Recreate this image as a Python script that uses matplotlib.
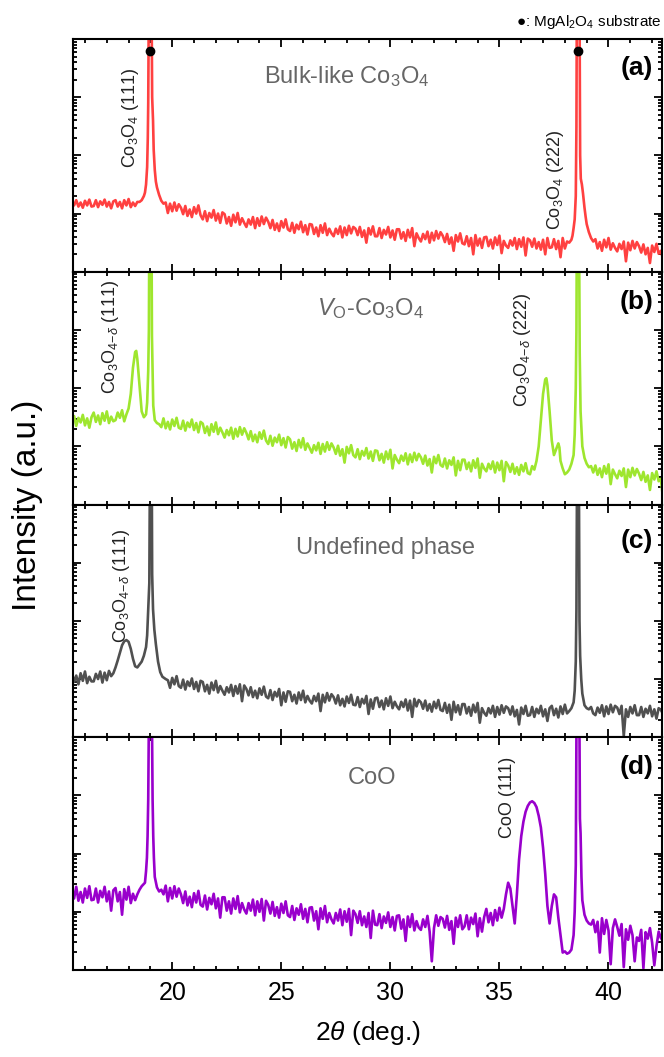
import numpy as np
import matplotlib
matplotlib.use('Agg')
import matplotlib.pyplot as plt
from matplotlib.ticker import LogLocator, MultipleLocator, NullFormatter

plt.rcParams['font.family'] = ['Liberation Sans', 'DejaVu Sans']
plt.rcParams['mathtext.fontset'] = 'custom'
plt.rcParams['mathtext.rm'] = 'Liberation Sans'
plt.rcParams['mathtext.it'] = 'Liberation Sans:italic'
plt.rcParams['mathtext.bf'] = 'Liberation Sans:bold'

# 2theta grid (deg), 0.1 deg step
two_theta = np.round(np.linspace(15.4, 42.5, 272), 2)

# background, log10(intensity), one row = 1 deg
bg_a = [
    1.21, 1.14, 1.23, 1.12, 1.19, 1.10, 1.22, 1.14, 1.24, 1.12,
    1.13, 1.23, 1.11, 1.21, 1.15, 1.24, 1.12, 1.20, 1.09, 1.21,
    1.23, 1.12, 1.20, 1.09, 1.23, 1.14, 1.25, 1.11, 1.19, 1.13,
    1.20, 1.22, 1.20, 1.20, 1.20, 1.20, 1.20, 1.20, 1.20, 1.20,
    1.20, 1.20, 1.20, 1.19, 1.01, 1.17, 1.04, 1.19, 1.05, 1.16,
    1.10, 0.99, 1.13, 0.96, 1.07, 0.94, 1.11, 1.00, 1.14, 0.97,
    0.90, 1.04, 0.87, 1.01, 0.93, 1.06, 0.88, 1.00, 0.84, 1.02,
    0.99, 0.83, 0.94, 0.79, 0.98, 0.85, 1.01, 0.81, 0.92, 0.84,
    0.77, 0.90, 0.81, 0.94, 0.75, 0.92, 0.79, 0.95, 0.82, 0.93,
    0.86, 0.75, 0.89, 0.72, 0.83, 0.70, 0.87, 0.76, 0.90, 0.73,
    0.70, 0.84, 0.67, 0.81, 0.73, 0.86, 0.68, 0.80, 0.64, 0.82,
    0.81, 0.65, 0.76, 0.61, 0.80, 0.67, 0.83, 0.63, 0.74, 0.66,
    0.61, 0.74, 0.65, 0.78, 0.59, 0.76, 0.63, 0.79, 0.66, 0.77,
    0.74, 0.63, 0.77, 0.60, 0.71, 0.50, 0.75, 0.64, 0.78, 0.61,
    0.61, 0.75, 0.58, 0.72, 0.64, 0.77, 0.59, 0.71, 0.55, 0.73,
    0.73, 0.57, 0.68, 0.53, 0.72, 0.59, 0.75, 0.44, 0.66, 0.58,
    0.52, 0.65, 0.56, 0.69, 0.50, 0.67, 0.54, 0.70, 0.57, 0.68,
    0.62, 0.51, 0.65, 0.48, 0.59, 0.36, 0.63, 0.52, 0.66, 0.49,
    0.47, 0.61, 0.44, 0.58, 0.30, 0.63, 0.45, 0.57, 0.41, 0.59,
    0.60, 0.44, 0.55, 0.40, 0.59, 0.46, 0.62, 0.32, 0.53, 0.45,
    0.41, 0.54, 0.45, 0.58, 0.39, 0.56, 0.43, 0.59, 0.28, 0.57,
    0.54, 0.43, 0.57, 0.40, 0.51, 0.38, 0.55, 0.30, 0.58, 0.41,
    0.42, 0.56, 0.39, 0.53, 0.25, 0.58, 0.40, 0.52, 0.50, 0.50,
    0.50, 0.50, 0.50, 0.50, 0.50, 0.50, 0.50, 0.50, 0.50, 0.50,
    0.56, 0.40, 0.51, 0.36, 0.55, 0.42, 0.58, 0.38, 0.49, 0.41,
    0.35, 0.48, 0.39, 0.52, 0.18, 0.50, 0.37, 0.53, 0.40, 0.51,
    0.44, 0.33, 0.47, 0.30, 0.41, 0.15, 0.45, 0.34, 0.48, 0.31,
    0.36, 0.22,
]
bg_b = [
    1.38, 1.52, 1.35, 1.49, 1.41, 1.54, 1.36, 1.48, 1.32, 1.50,
    1.58, 1.42, 1.53, 1.38, 1.57, 1.44, 1.60, 1.40, 1.51, 1.43,
    1.45, 1.58, 1.49, 1.62, 1.43, 1.55, 1.55, 1.55, 1.55, 1.55,
    1.50, 1.50, 1.50, 1.50, 1.50, 1.50, 1.50, 1.50, 1.50, 1.50,
    1.40, 1.33, 1.48, 1.31, 1.42, 1.29, 1.46, 1.35, 1.49, 1.32,
    1.30, 1.44, 1.27, 1.41, 1.33, 1.46, 1.28, 1.40, 1.24, 1.42,
    1.39, 1.23, 1.34, 1.19, 1.38, 1.25, 1.41, 1.21, 1.32, 1.24,
    1.15, 1.28, 1.19, 1.32, 1.13, 1.30, 1.17, 1.33, 1.20, 1.31,
    1.23, 1.12, 1.26, 1.09, 1.20, 1.07, 1.24, 1.13, 1.27, 1.10,
    1.04, 1.18, 1.01, 1.15, 1.07, 1.20, 1.02, 1.14, 0.98, 1.16,
    1.12, 0.96, 1.07, 0.92, 1.11, 0.98, 1.14, 0.94, 1.05, 0.97,
    0.89, 1.02, 0.93, 1.06, 0.87, 1.04, 0.91, 1.07, 0.94, 1.05,
    0.98, 0.87, 1.01, 0.84, 0.95, 0.72, 0.99, 0.88, 1.02, 0.85,
    0.81, 0.95, 0.78, 0.92, 0.84, 0.97, 0.79, 0.91, 0.75, 0.93,
    0.92, 0.76, 0.87, 0.72, 0.91, 0.78, 0.94, 0.62, 0.85, 0.77,
    0.71, 0.84, 0.75, 0.88, 0.69, 0.86, 0.73, 0.89, 0.76, 0.87,
    0.81, 0.70, 0.84, 0.67, 0.78, 0.55, 0.82, 0.71, 0.85, 0.68,
    0.65, 0.79, 0.62, 0.76, 0.68, 0.81, 0.50, 0.75, 0.59, 0.77,
    0.77, 0.61, 0.72, 0.57, 0.76, 0.63, 0.79, 0.46, 0.70, 0.62,
    0.57, 0.70, 0.61, 0.74, 0.55, 0.72, 0.59, 0.75, 0.40, 0.73,
    0.67, 0.56, 0.70, 0.53, 0.64, 0.51, 0.68, 0.57, 0.71, 0.54,
    0.52, 0.66, 0.60, 0.60, 0.60, 0.60, 0.60, 0.60, 0.60, 0.60,
    0.60, 0.60, 0.60, 0.60, 0.60, 0.60, 0.60, 0.60, 0.60, 0.60,
    0.60, 0.60, 0.60, 0.60, 0.60, 0.60, 0.60, 0.60, 0.66, 0.55,
    0.67, 0.51, 0.62, 0.47, 0.66, 0.53, 0.69, 0.35, 0.60, 0.52,
    0.45, 0.58, 0.49, 0.62, 0.30, 0.60, 0.47, 0.63, 0.50, 0.61,
    0.53, 0.42, 0.56, 0.39, 0.50, 0.25, 0.54, 0.43, 0.57, 0.40,
    0.44, 0.10,
]
bg_c = [
    1.11, 0.95, 1.06, 0.91, 1.10, 0.97, 1.13, 0.93, 1.04, 0.96,
    0.96, 1.09, 1.00, 1.13, 0.94, 1.11, 0.98, 1.14, 1.05, 1.05,
    1.20, 1.20, 1.20, 1.20, 1.20, 1.20, 1.20, 1.20, 1.20, 1.20,
    1.20, 1.20, 1.20, 1.20, 1.20, 1.20, 1.20, 1.20, 1.20, 1.20,
    1.10, 1.05, 1.02, 1.00, 0.98, 0.85, 1.02, 0.91, 1.05, 0.88,
    0.85, 0.99, 0.82, 0.96, 0.88, 1.01, 0.83, 0.95, 0.79, 0.97,
    0.95, 0.79, 0.90, 0.75, 0.94, 0.81, 0.97, 0.77, 0.88, 0.80,
    0.73, 0.86, 0.77, 0.90, 0.71, 0.88, 0.75, 0.91, 0.62, 0.89,
    0.83, 0.72, 0.86, 0.69, 0.80, 0.67, 0.84, 0.73, 0.87, 0.70,
    0.67, 0.81, 0.64, 0.78, 0.70, 0.83, 0.55, 0.77, 0.61, 0.79,
    0.78, 0.62, 0.73, 0.58, 0.77, 0.64, 0.80, 0.60, 0.71, 0.63,
    0.58, 0.71, 0.62, 0.75, 0.45, 0.73, 0.60, 0.76, 0.63, 0.74,
    0.69, 0.58, 0.72, 0.55, 0.66, 0.53, 0.70, 0.59, 0.73, 0.56,
    0.55, 0.69, 0.52, 0.66, 0.58, 0.71, 0.40, 0.65, 0.49, 0.67,
    0.68, 0.52, 0.63, 0.48, 0.67, 0.54, 0.70, 0.50, 0.61, 0.53,
    0.48, 0.61, 0.52, 0.65, 0.46, 0.63, 0.35, 0.66, 0.53, 0.64,
    0.60, 0.49, 0.63, 0.46, 0.57, 0.44, 0.61, 0.50, 0.64, 0.47,
    0.45, 0.59, 0.42, 0.56, 0.30, 0.61, 0.43, 0.55, 0.39, 0.57,
    0.57, 0.41, 0.52, 0.37, 0.56, 0.43, 0.59, 0.25, 0.50, 0.42,
    0.37, 0.50, 0.41, 0.54, 0.35, 0.52, 0.39, 0.55, 0.42, 0.53,
    0.50, 0.39, 0.53, 0.36, 0.47, 0.22, 0.51, 0.40, 0.54, 0.37,
    0.38, 0.52, 0.35, 0.49, 0.41, 0.54, 0.36, 0.48, 0.28, 0.50,
    0.54, 0.38, 0.49, 0.34, 0.53, 0.40, 0.56, 0.41, 0.45, 0.45,
    0.50, 0.50, 0.50, 0.50, 0.50, 0.50, 0.50, 0.50, 0.52, 0.41,
    0.38, 0.51, 0.42, 0.55, 0.36, 0.53, 0.40, 0.56, 0.43, 0.54,
    0.51, 0.40, 0.54, 0.02, 0.48, 0.35, 0.52, 0.41, 0.55, 0.38,
    0.38, 0.52, 0.35, 0.49, 0.41, 0.54, 0.36, 0.48, 0.32, 0.50,
    0.47, 0.40,
]
bg_d = [
    1.38, 1.23, 1.43, 1.19, 1.34, 1.16, 1.40, 1.24, 1.44, 1.20,
    1.21, 1.40, 1.16, 1.36, 1.25, 1.43, 1.18, 1.35, 1.02, 1.37,
    1.41, 1.18, 1.34, 0.95, 1.39, 1.21, 1.43, 1.15, 1.31, 1.20,
    1.35, 1.35, 1.35, 1.35, 1.35, 1.35, 1.35, 1.35, 1.35, 1.35,
    1.30, 1.30, 1.30, 1.45, 1.18, 1.41, 1.23, 1.44, 1.26, 1.40,
    1.30, 1.15, 1.35, 1.11, 1.26, 1.08, 1.32, 1.16, 1.36, 1.12,
    1.09, 1.28, 1.04, 1.24, 1.13, 1.31, 1.06, 1.23, 0.90, 1.25,
    1.25, 1.02, 1.18, 0.97, 1.23, 1.05, 1.27, 0.99, 1.15, 1.04,
    0.97, 1.15, 1.02, 1.21, 0.94, 1.18, 1.00, 1.22, 0.85, 1.19,
    1.12, 0.97, 1.17, 0.93, 1.08, 0.90, 1.14, 0.98, 1.18, 0.94,
    0.91, 1.10, 0.86, 1.06, 0.95, 1.13, 0.88, 1.05, 0.82, 1.07,
    1.08, 0.85, 1.01, 0.70, 1.06, 0.88, 1.10, 0.82, 0.98, 0.87,
    0.80, 0.98, 0.85, 1.04, 0.77, 1.01, 0.83, 1.05, 0.60, 1.02,
    0.96, 0.81, 1.01, 0.77, 0.92, 0.74, 0.98, 0.55, 1.02, 0.78,
    0.77, 0.96, 0.72, 0.92, 0.81, 0.99, 0.74, 0.91, 0.68, 0.93,
    0.94, 0.71, 0.87, 0.50, 0.92, 0.74, 0.96, 0.68, 0.84, 0.73,
    0.69, 0.87, 0.74, 0.93, 0.66, 0.15, 0.72, 0.94, 0.76, 0.91,
    0.88, 0.73, 0.93, 0.69, 0.84, 0.45, 0.90, 0.74, 0.94, 0.70,
    0.75, 0.94, 0.70, 0.90, 0.79, 0.97, 0.58, 0.89, 0.66, 0.91,
    1.05, 0.82, 0.98, 0.77, 1.03, 0.85, 1.07, 0.90, 1.00, 1.00,
    1.00, 1.00, 1.00, 1.00, 1.00, 1.00, 1.00, 1.00, 1.00, 1.00,
    1.00, 1.00, 1.00, 1.00, 1.00, 1.00, 1.00, 1.00, 1.00, 1.00,
    1.00, 1.00, 1.00, 1.00, 1.00, 1.00, 1.00, 1.00, 1.00, 1.00,
    1.00, 1.00, 1.00, 1.00, 1.00, 1.00, 1.00, 1.00, 1.00, 0.86,
    0.65, 0.83, 0.30, 0.89, 0.62, 0.86, 0.68, 0.10, 0.72, 0.87,
    0.74, 0.59, 0.79, 0.05, 0.70, 0.52, 0.76, 0.60, 0.15, 0.56,
    0.50, 0.69, 0.03, 0.65, 0.54, 0.72, 0.47, 0.08, 0.41, 0.66,
    0.55, 0.50,
]

# peak regions (2theta, log10 intensity), these replace the background
peaks_a = [
    ([18.5, 18.6, 18.7, 18.75, 18.8, 18.85, 18.88, 18.9, 18.93, 19.05, 19.08,
      19.12, 19.15, 19.2, 19.25, 19.3, 19.4, 19.5, 19.6],
     [1.20, 1.23, 1.30, 1.36, 1.50, 1.80, 2.30, 2.90, 4.80, 4.80, 3.00,
      2.60, 2.10, 1.75, 1.55, 1.45, 1.32, 1.22, 1.17]),
    ([38.2, 38.3, 38.35, 38.4, 38.45, 38.5, 38.53, 38.55, 38.67, 38.7, 38.73,
      38.78, 38.83, 38.9, 38.95, 39.0, 39.1, 39.2, 39.3],
     [0.50, 0.55, 0.62, 0.75, 0.90, 1.30, 2.50, 4.80, 4.80, 2.00, 1.60,
      1.50, 1.35, 1.10, 0.95, 0.82, 0.68, 0.58, 0.52]),
]
peaks_b = [
    ([17.9, 18.0, 18.1, 18.2, 18.3, 18.35, 18.4, 18.5, 18.6, 18.7, 18.8,
      18.85, 18.9, 18.93, 18.95, 19.05, 19.07, 19.1, 19.13, 19.2, 19.3, 19.4],
     [1.55, 1.65, 1.90, 2.35, 2.62, 2.64, 2.50, 2.05, 1.60, 1.50, 1.55,
      1.75, 2.30, 3.00, 4.80, 4.80, 2.90, 2.30, 1.70, 1.45, 1.40, 1.38]),
    ([36.6, 36.7, 36.8, 36.9, 37.0, 37.1, 37.15, 37.2, 37.3, 37.4, 37.5,
      37.6, 37.7, 37.75, 37.8, 37.9, 38.0, 38.1, 38.2, 38.3, 38.4, 38.45,
      38.5, 38.53, 38.55, 38.65, 38.68, 38.72, 38.8, 38.9, 39.0, 39.1],
     [0.60, 0.75, 1.00, 1.45, 1.90, 2.15, 2.17, 2.05, 1.60, 1.10, 0.85,
      0.95, 1.05, 0.98, 0.75, 0.62, 0.52, 0.55, 0.60, 0.70, 0.85, 1.20,
      2.00, 3.00, 4.80, 4.80, 2.60, 1.60, 1.00, 0.80, 0.70, 0.64]),
]
peaks_c = [
    ([17.2, 17.3, 17.4, 17.5, 17.6, 17.7, 17.8, 17.9, 18.0, 18.1, 18.2,
      18.3, 18.4, 18.5, 18.6, 18.7, 18.8, 18.85, 18.9, 18.95, 18.98, 19.06,
      19.08, 19.12, 19.18, 19.25, 19.35, 19.45, 19.55, 19.7, 19.8],
     [1.05, 1.10, 1.20, 1.32, 1.45, 1.58, 1.65, 1.67, 1.64, 1.52, 1.35,
      1.22, 1.20, 1.25, 1.30, 1.40, 1.55, 1.75, 2.20, 2.65, 4.80, 4.80,
      2.80, 2.20, 1.85, 1.60, 1.30, 1.12, 1.04, 1.00, 0.98]),
    ([38.2, 38.3, 38.4, 38.45, 38.5, 38.53, 38.56, 38.64, 38.67, 38.7, 38.75,
      38.8, 38.9, 39.0, 39.1],
     [0.45, 0.50, 0.60, 0.80, 1.30, 2.20, 4.80, 4.80, 2.00, 1.40, 1.00,
      0.75, 0.55, 0.50, 0.48]),
]
peaks_d = [
    ([18.4, 18.5, 18.6, 18.75, 18.8, 18.84, 18.87, 18.9, 18.94, 19.06, 19.1,
      19.13, 19.16, 19.2, 19.3, 19.4, 19.5, 19.6],
     [1.30, 1.38, 1.44, 1.50, 1.70, 1.93, 2.30, 2.93, 4.80, 4.80, 2.93,
      2.30, 1.93, 1.60, 1.42, 1.35, 1.38, 1.30]),
    ([35.2, 35.3, 35.4, 35.5, 35.6, 35.7, 35.8, 35.9, 36.0, 36.1, 36.2,
      36.3, 36.4, 36.5, 36.6, 36.7, 36.8, 36.9, 37.0, 37.1, 37.2, 37.3,
      37.4, 37.5, 37.6, 37.7, 37.8, 37.9, 38.0, 38.1, 38.2, 38.3, 38.4,
      38.45, 38.5, 38.54, 38.66, 38.69, 38.72, 38.76, 38.8, 38.9, 39.0,
      39.1, 39.2],
     [1.05, 1.30, 1.50, 1.40, 1.10, 0.80, 1.30, 1.90, 2.30, 2.55, 2.72,
      2.82, 2.88, 2.90, 2.87, 2.80, 2.65, 2.45, 2.10, 1.65, 1.10, 0.80,
      1.10, 1.30, 1.25, 0.90, 0.60, 0.30, 0.32, 0.28, 0.30, 0.35, 0.60,
      1.00, 1.80, 4.80, 4.80, 2.60, 2.35, 1.60, 1.20, 0.95, 0.85,
      0.80, 0.78]),
]

substrate_x = [19.0, 38.6]
substrate_dot = [6200, 6200]

colors = ['#ff4040', '#9ee62e', '#505050', '#9900cc']
titles = ['Bulk-like Co$_3$O$_4$', '$V_{\\mathrm{O}}$-Co$_3$O$_4$',
          'Undefined phase', 'CoO']
letters = ['(a)', '(b)', '(c)', '(d)']


def build(bg, segments):
    x = two_theta.copy()
    y = np.array(bg, dtype=float)
    for sx, sy in segments:
        keep = (x < sx[0] - 1e-6) | (x > sx[-1] + 1e-6)
        x = np.concatenate([x[keep], sx])
        y = np.concatenate([y[keep], sy])
    order = np.argsort(x)
    return x[order], 10 ** y[order]


fig = plt.figure(figsize=(6.64, 10.57), dpi=100)
left, width = 0.1099, 0.887
bottom0, h = 0.0823, 0.2202

data = [(bg_a, peaks_a), (bg_b, peaks_b), (bg_c, peaks_c), (bg_d, peaks_d)]
title_pos = [(0.465, 0.837), (0.505, 0.84), (0.53, 0.815), (0.508, 0.824)]
letter_y = [0.876, 0.871, 0.845, 0.871]
axes = []
for i, (bg, pk) in enumerate(data):
    ax = fig.add_axes([left, bottom0 + (3 - i) * h, width, h])
    x, y = build(bg, pk)
    ax.plot(x, y, color=colors[i], lw=1.9)
    ax.set_yscale('log')
    ax.set_ylim(1, 1e4)
    ax.set_xlim(15.45, 42.45)
    ax.xaxis.set_major_locator(MultipleLocator(5))
    ax.xaxis.set_minor_locator(MultipleLocator(1))
    ax.yaxis.set_major_locator(LogLocator(base=10, numticks=10))
    ax.yaxis.set_minor_locator(LogLocator(base=10, subs=np.arange(2, 10), numticks=20))
    ax.yaxis.set_major_formatter(NullFormatter())
    ax.yaxis.set_minor_formatter(NullFormatter())
    ax.tick_params(which='both', direction='in', top=True, right=True, width=1.3)
    ax.tick_params(which='major', length=6)
    ax.tick_params(which='minor', length=3)
    ax.tick_params(axis='x', labelsize=18, pad=8)
    for s in ax.spines.values():
        s.set_linewidth(1.5)
    if i < 3:
        ax.tick_params(axis='x', labelbottom=False)
    ax.text(title_pos[i][0], title_pos[i][1], titles[i], transform=ax.transAxes,
            ha='center', va='center', fontsize=17, color='#666666')
    ax.text(0.985, letter_y[i], letters[i], transform=ax.transAxes,
            ha='right', va='center', fontsize=19, fontweight='bold')
    axes.append(ax)

axes[0].plot(substrate_x, substrate_dot, 'o', color='black', ms=6, zorder=5)

lab_kw = dict(rotation=90, ha='center', va='center', fontsize=13, color='#222222')
axes[0].text(0.0985, 0.661, 'Co$_3$O$_4$ (111)', transform=axes[0].transAxes, **lab_kw)
axes[0].text(0.82, 0.395, 'Co$_3$O$_4$ (222)', transform=axes[0].transAxes, **lab_kw)
axes[1].text(0.063, 0.721, 'Co$_3$O$_{4\\mathrm{-}\\delta}$ (111)', transform=axes[1].transAxes, **lab_kw)
axes[1].text(0.764, 0.665, 'Co$_3$O$_{4\\mathrm{-}\\delta}$ (222)', transform=axes[1].transAxes, **lab_kw)
axes[2].text(0.083, 0.652, 'Co$_3$O$_{4\\mathrm{-}\\delta}$ (111)', transform=axes[2].transAxes, **lab_kw)
axes[3].text(0.737, 0.742, 'CoO (111)', transform=axes[3].transAxes, **lab_kw)

axes[3].set_xlabel('2$\\theta$ (deg.)', fontsize=19, labelpad=10)
fig.text(0.042, 0.522, 'Intensity (a.u.)', rotation=90, ha='center', va='center', fontsize=24)
fig.text(0.997, 0.979, '\u25cf: MgAl$_2$O$_4$ substrate', ha='right', va='center', fontsize=11)

fig.savefig('out.png', dpi=100)
